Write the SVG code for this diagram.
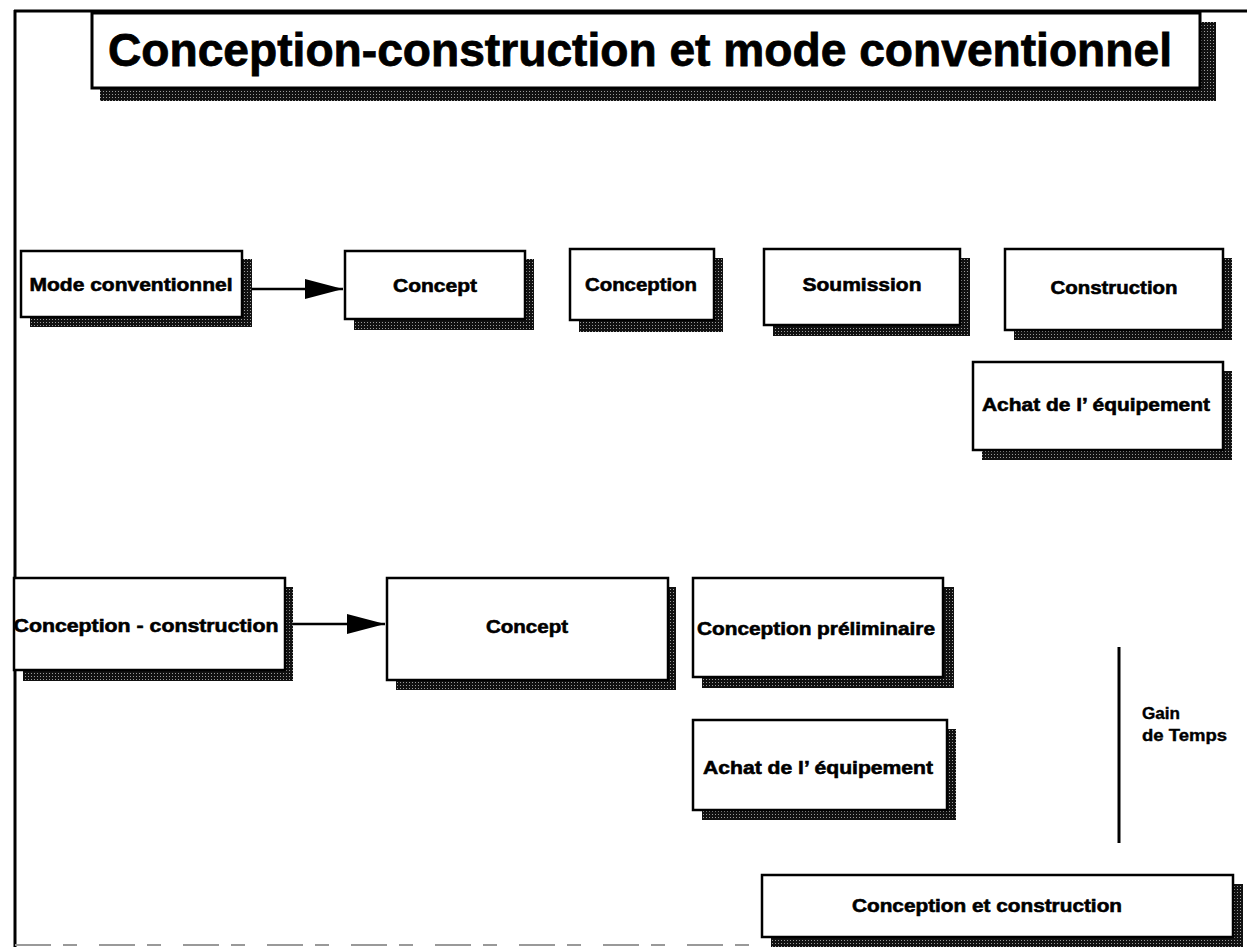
<svg xmlns="http://www.w3.org/2000/svg" width="1247" height="947" viewBox="0 0 1247 947">
<defs>
<pattern id="dots" width="3" height="3" patternUnits="userSpaceOnUse">
<rect width="3" height="3" fill="#111"/>
<rect x="1" y="1" width="1" height="1" fill="#9a9a9a"/>
</pattern>
<marker id="arrow" markerUnits="userSpaceOnUse" markerWidth="40" markerHeight="22" refX="38" refY="11" orient="auto">
<path d="M0,1 L38,11 L0,21 Z" fill="#000"/>
</marker>
<style>
.box{fill:#fff;stroke:#000;stroke-width:2.5}
.sh{fill:url(#dots)}
.lbl{font-family:"Liberation Sans",Arial,sans-serif;font-weight:bold;font-size:19px;fill:#000;stroke:#000;stroke-width:0.6;text-anchor:middle}
.small{font-family:"Liberation Sans",Arial,sans-serif;font-weight:bold;font-size:17px;fill:#000;stroke:#000;stroke-width:0.4}
.conn{stroke:#000;stroke-width:2.5;fill:none}
</style>
</defs>
<rect width="1247" height="947" fill="#fff"/>
<g id="frame">
<line x1="14" y1="11" x2="1247" y2="11" stroke="#000" stroke-width="3"/>
<line x1="15" y1="10" x2="15" y2="947" stroke="#000" stroke-width="3"/>
<line x1="15" y1="945" x2="760" y2="945" stroke="#999" stroke-width="2" stroke-dasharray="36 12 14 22"/>
</g>
<g id="title">
<rect class="sh" x="100" y="22" width="1116" height="79"/>
<rect x="92" y="13" width="1108" height="75" fill="#fff" stroke="#000" stroke-width="3"/>
<text x="640" y="66" font-family="'Liberation Sans',Arial,sans-serif" font-weight="bold" font-size="46" stroke="#000" stroke-width="0.8" text-anchor="middle" textLength="1064" lengthAdjust="spacingAndGlyphs">Conception-construction et mode conventionnel</text>
</g>
<g id="n-mode">
<rect class="sh" x="30" y="259" width="222" height="68"/>
<rect class="box" x="21" y="251" width="221" height="66"/>
<text class="lbl" x="131" y="291" textLength="203" lengthAdjust="spacingAndGlyphs">Mode conventionnel</text>
</g>
<g id="n-concept1">
<rect class="sh" x="354" y="259" width="180" height="71"/>
<rect class="box" x="345" y="251" width="180" height="68"/>
<text class="lbl" x="435" y="292" textLength="84" lengthAdjust="spacingAndGlyphs">Concept</text>
</g>
<g id="n-conception">
<rect class="sh" x="579" y="258" width="144" height="74"/>
<rect class="box" x="570" y="249" width="144" height="71"/>
<text class="lbl" x="641" y="291" textLength="112" lengthAdjust="spacingAndGlyphs">Conception</text>
</g>
<g id="n-soumission">
<rect class="sh" x="773" y="258" width="197" height="78"/>
<rect class="box" x="764" y="249" width="196" height="76"/>
<text class="lbl" x="862" y="291" textLength="119" lengthAdjust="spacingAndGlyphs">Soumission</text>
</g>
<g id="n-construction">
<rect class="sh" x="1014" y="258" width="218" height="82"/>
<rect class="box" x="1005" y="249" width="218" height="81"/>
<text class="lbl" x="1114" y="294" textLength="127" lengthAdjust="spacingAndGlyphs">Construction</text>
</g>
<g id="n-achat1">
<rect class="sh" x="982" y="371" width="250" height="89"/>
<rect class="box" x="973" y="362" width="250" height="88"/>
<text class="lbl" x="1096" y="411" textLength="228" lengthAdjust="spacingAndGlyphs">Achat de l’ équipement</text>
</g>
<g id="n-cc">
<rect class="sh" x="23" y="587" width="270" height="94"/>
<rect class="box" x="14" y="578" width="271" height="92"/>
<text class="lbl" x="146" y="632" textLength="265" lengthAdjust="spacingAndGlyphs">Conception - construction</text>
</g>
<g id="n-concept2">
<rect class="sh" x="396" y="587" width="280" height="103"/>
<rect class="box" x="387" y="578" width="281" height="102"/>
<text class="lbl" x="527" y="633" textLength="82" lengthAdjust="spacingAndGlyphs">Concept</text>
</g>
<g id="n-prelim">
<rect class="sh" x="702" y="587" width="252" height="101"/>
<rect class="box" x="693" y="578" width="250" height="99"/>
<text class="lbl" x="816" y="635" textLength="238" lengthAdjust="spacingAndGlyphs">Conception préliminaire</text>
</g>
<g id="n-achat2">
<rect class="sh" x="702" y="729" width="254" height="91"/>
<rect class="box" x="693" y="720" width="254" height="90"/>
<text class="lbl" x="818" y="774" textLength="230" lengthAdjust="spacingAndGlyphs">Achat de l’ équipement</text>
</g>
<g id="n-cetc">
<rect class="sh" x="771" y="884" width="472" height="63"/>
<rect class="box" x="762" y="875" width="471" height="62"/>
<text class="lbl" x="987" y="912" textLength="270" lengthAdjust="spacingAndGlyphs">Conception et construction</text>
</g>
<g id="gain">
<line x1="1119" y1="647" x2="1119" y2="843" stroke="#000" stroke-width="3"/>
<text class="small" x="1142" y="719" textLength="38" lengthAdjust="spacingAndGlyphs">Gain</text>
<text class="small" x="1142" y="741" textLength="85" lengthAdjust="spacingAndGlyphs">de Temps</text>
</g>
<g id="connectors">
<line class="conn" x1="252" y1="289" x2="343" y2="289" marker-end="url(#arrow)"/>
<line class="conn" x1="293" y1="624" x2="385" y2="624" marker-end="url(#arrow)"/>
</g>
</svg>
